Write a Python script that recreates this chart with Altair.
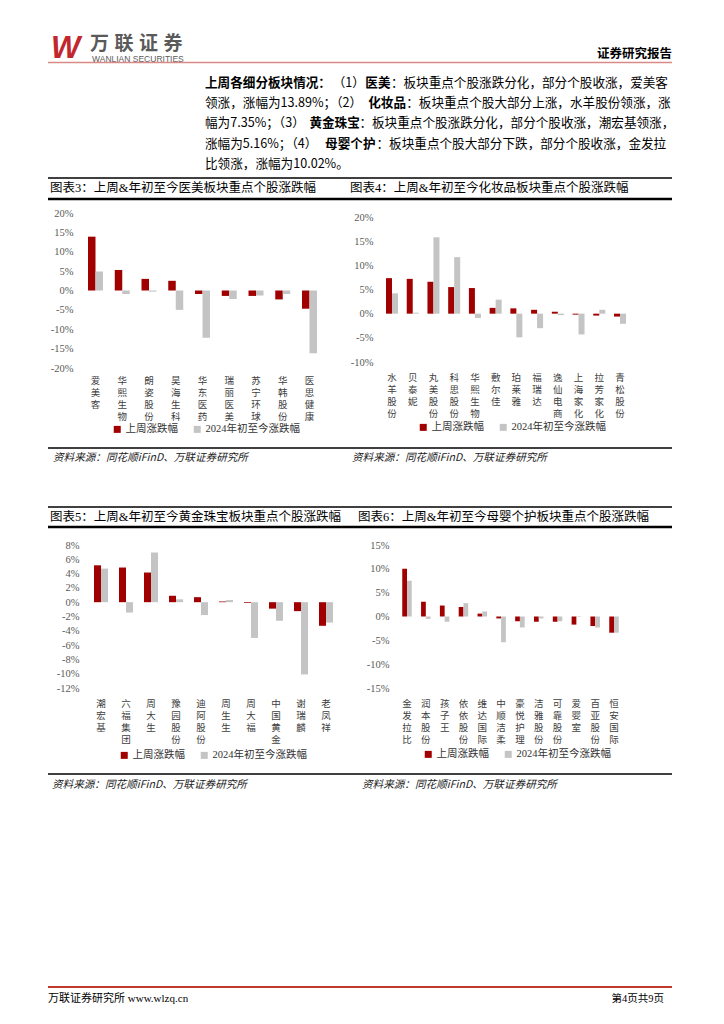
import altair as alt
import pandas as pd

SERIES = ["上周涨跌幅", "2024年初至今涨跌幅"]
BAR_COLORS = ["#A00000", "#C4C4C4"]

# ---- chart 3: 医美
c3_names = ["爱美客", "华熙生物", "朗姿股份", "昊海生科", "华东医药", "瑞丽医美", "苏宁环球", "华韩股份", "医思健康"]
c3_week = [13.89, 5.3, 3.0, 2.5, -0.9, -1.4, -1.4, -2.3, -4.7]
c3_ytd = [4.9, -0.9, -0.3, -5.0, -12.2, -2.2, -1.3, -0.9, -16.2]
c3_ticks = [-20, -15, -10, -5, 0, 5, 10, 15, 20]

# ---- chart 4: 化妆品
c4_names = ["水羊股份", "贝泰妮", "丸美股份", "科思股份", "华熙生物", "敷尔佳", "珀莱雅", "福瑞达", "逸仙电商", "上海家化", "拉芳家化", "青松股份"]
c4_week = [7.35, 7.2, 6.6, 5.5, 5.3, 1.2, 1.1, 0.8, 0.4, -0.2, -0.4, -0.6]
c4_ytd = [4.2, 0.2, 15.8, 11.7, -0.9, 2.9, -4.9, -3.0, -0.3, -4.3, 0.8, -2.1]
c4_ticks = [-10, -5, 0, 5, 10, 15, 20]

# ---- chart 5: 黄金珠宝
c5_names = ["潮宏基", "六福集团", "周大生", "豫园股份", "迪阿股份", "周生生", "周大福", "中国黄金", "谢瑞麟", "老凤祥"]
c5_week = [5.16, 4.85, 4.15, 0.9, 0.7, 0.1, -0.1, -0.9, -1.25, -3.3]
c5_ytd = [4.7, -1.45, 6.95, 0.4, -1.8, 0.3, -5.0, -2.6, -10.1, -2.85]
c5_ticks = [-12, -10, -8, -6, -4, -2, 0, 2, 4, 6, 8]

# ---- chart 6: 母婴个护
c6_names = ["金发拉比", "润本股份", "孩子王", "依依股份", "维达国际", "中顺洁柔", "豪悦护理", "洁雅股份", "可靠股份", "爱婴室", "百亚股份", "恒安国际"]
c6_week = [10.02, 3.1, 2.3, 2.0, 0.6, -0.4, -1.0, -1.1, -1.1, -1.7, -2.0, -3.4]
c6_ytd = [7.5, -0.5, -1.1, 2.8, 1.05, -5.4, -2.3, -0.4, -1.0, -0.1, -2.3, -3.4]
c6_ticks = [-15, -10, -5, 0, 5, 10, 15]

TITLES = ["图表3：上周&年初至今医美板块重点个股涨跌幅",
          "图表4：上周&年初至今化妆品板块重点个股涨跌幅",
          "图表5：上周&年初至今黄金珠宝板块重点个股涨跌幅",
          "图表6：上周&年初至今母婴个护板块重点个股涨跌幅"]
SOURCE = "资料来源：同花顺iFinD、万联证券研究所"

PARA = [
    [("上周各细分板块情况：", True), ("（1）", False), ("医美", True), ("：板块重点个股涨跌分化，部分个股收涨，爱美客", False)],
    [("领涨，涨幅为13.89%；（2）", False), ("化妆品", True), ("：板块重点个股大部分上涨，水羊股份领涨，涨", False)],
    [("幅为7.35%；（3）", False), ("黄金珠宝", True), ("：板块重点个股涨跌分化，部分个股收涨，潮宏基领涨，", False)],
    [("涨幅为5.16%；（4）", False), ("母婴个护", True), ("：板块重点个股大部分下跌，部分个股收涨，金发拉", False)],
    [("比领涨，涨幅为10.02%。", False)],
]

SERIF = "'Liberation Serif', 'Noto Sans CJK SC'"
SANS = "'Noto Sans CJK SC'"
LATIN = "'Liberation Sans'"

# layout (page pixels); cell of chart 3 is the origin of all decorations
OX, OY = 82, 213
W1, W2, GX = 257, 248, 43
H1, H2, GY = 155, 143, 177

ONE = pd.DataFrame({"k": [0]})


def band_params(left, width, n, c_first, c_last, pair_w):
    step = (c_last - c_first) / (n - 1)
    pi = 1 - pair_w / step
    total = width / step
    po = (total - n + pi) / 2
    slack = width - step * (n - pi)
    start = c_first - left - pair_w / 2
    al = min(max(start / slack, 0), 1)
    return pi, max(po, 0), al


def bar_panel(names, week, ytd, left, width, height, domain, ticks,
              c_first, c_last, pair_w, y_pad, y_off, x_pad, leg_x, leg_y):
    rows = []
    for n, a, b in zip(names, week, ytd):
        rows.append({"stock": n, "series": SERIES[0], "value": a})
        rows.append({"stock": n, "series": SERIES[1], "value": b})
    df = pd.DataFrame(rows)
    pi, po, al = band_params(left, width, len(names), c_first, c_last, pair_w)
    return alt.Chart(df).mark_bar().encode(
        x=alt.X("stock:N", sort=names, title=None,
                scale=alt.Scale(paddingInner=pi, paddingOuter=po, align=al),
                axis=alt.Axis(labelExpr="split(datum.label, '')", labelAngle=0,
                              labelAlign="center", labelBaseline="top",
                              labelPadding=x_pad, labelFont=SANS, labelFontSize=9.5,
                              labelColor="#404040", labelLineHeight=12.2,
                              labelOverlap=False, labelLimit=400,
                              ticks=False, domain=False, grid=False)),
        xOffset=alt.XOffset("series:N", sort=SERIES,
                            scale=alt.Scale(paddingInner=0, paddingOuter=0)),
        y=alt.Y("value:Q", stack=None, title=None,
                scale=alt.Scale(domain=domain, nice=False, zero=False),
                axis=alt.Axis(values=ticks, labelExpr="datum.value + '%'",
                              labelPadding=y_pad, offset=y_off,
                              labelFont=SERIF, labelFontSize=10.5, labelColor="#595959",
                              ticks=False, domain=False, grid=False)),
        color=alt.Color("series:N", sort=SERIES,
                        scale=alt.Scale(domain=SERIES, range=BAR_COLORS),
                        legend=alt.Legend(orient="none", legendX=leg_x, legendY=leg_y,
                                          direction="horizontal", title=None,
                                          symbolType="square", symbolSize=49,
                                          symbolStrokeWidth=0, labelFont=SERIF,
                                          labelFontSize=10.5, labelColor="#333333",
                                          labelOffset=3, columnPadding=14, padding=0)),
    ).properties(width=width, height=height)


def T(x, y, s, fs, font=SERIF, weight="normal", style="normal", align="left",
      baseline="middle", color="#000000"):
    return alt.Chart(ONE).mark_text(
        text=s, font=font, fontSize=fs, fontWeight=weight, fontStyle=style,
        align=align, baseline=baseline, color=color
    ).encode(x=alt.value(x - OX), y=alt.value(y - OY))


def H(x1, x2, y, w, color="#000000"):
    return alt.Chart(ONE).mark_rule(color=color, strokeWidth=w).encode(
        x=alt.value(x1 - OX), x2=alt.value(x2 - OX), y=alt.value(y - OY))


def tw(s, fs):
    w = 0.0
    for ch in s:
        if ord(ch) < 128:
            w += fs * (0.3 if ch == "." else 0.85 if ch == "%" else 0.55)
        else:
            w += fs
    return w


decor = []
# invisible page anchor: fixes where the cells sit on the page
decor.append(alt.Chart(ONE).mark_rect(opacity=0).encode(
    x=alt.value(8 - OX), x2=alt.value(716 - OX), y=alt.value(8 - OY), y2=alt.value(1016 - OY)))

# header / logo
decor.append(T(51, 58, "W", 31, font=LATIN, weight="bold", style="italic",
               baseline="alphabetic", color="#C1272D"))
for i, ch in enumerate("万联证券"):
    decor.append(T(90 + i * 24.5, 50, ch, 19, font=SANS, weight="bold",
                   baseline="alphabetic", color="#5A5A5A"))
decor.append(T(92, 58.5, "WANLIAN SECURITIES", 8.5, font=LATIN, color="#5A5A5A"))
decor.append(T(672, 54, "证券研究报告", 12.5, font=SANS, weight="bold", align="right"))
decor.append(H(48, 672, 62.5, 1.5, "#D98A86"))

# paragraph
PFS = 12.6
for li, line in enumerate(PARA):
    natural = sum(tw(s, PFS) for s, _ in line)
    f = (467 / natural) if li < len(PARA) - 1 else 1.0
    pos = 0.0
    for s, bold in line:
        decor.append(T(205 + pos * f, 83 + li * 20.2, s, PFS, font=SANS,
                       weight="bold" if bold else "normal"))
        pos += tw(s, PFS)

# section rules
for y, w in [(178, 1.5), (199, 2.5), (448, 1.5), (507, 1.5), (527, 2.5), (774, 1.5)]:
    decor.append(H(48, 672, y, w))

# titles and sources
for (x, y), t in zip([(50, 188), (350, 188), (50, 517), (358, 517)], TITLES):
    decor.append(T(x, y, t, 12.5))
for x, y in [(53, 458), (352, 458), (52, 785), (362, 785)]:
    decor.append(T(x, y, SOURCE, 10.6, font=SANS, style="italic", color="#222222"))

# footer
decor.append(H(48, 672, 987, 2, "#C0392B"))
decor.append(T(48, 999, "万联证券研究所  www.wlzq.cn", 11, font=SERIF))
decor.append(T(664, 999, "第4页共9页", 10.5, font=SERIF, align="right"))

b3 = bar_panel(c3_names, c3_week, c3_ytd, 82, W1, H1, [-20, 20], c3_ticks,
               95.5, 309.5, 15, 9, 0, 7, 30, 211)
k4 = (362 - 217) / 30
b4 = bar_panel(c4_names, c4_week, c4_ytd, 382, W2, H1,
               [-10 - (368 - 362) / k4, 20 + (217 - 213) / k4], c4_ticks,
               392, 620, 12, 9, 0, 4, 36, 209)
b5 = bar_panel(c5_names, c5_week, c5_ytd, 82, W1, H2, [-12, 8], c5_ticks,
               101, 326, 14, 3, 0, 10, 37, 205)
b6 = bar_panel(c6_names, c6_week, c6_ytd, 382, W2, H2, [-15, 15], c6_ticks,
               407, 614, 9.5, 9, -16, 10, 41, 204)

c3 = alt.layer(b3, *decor)

chart = alt.concat(
    c3, b4, b5, b6, columns=2, bounds="flush",
    spacing={"row": GY, "column": GX},
).resolve_scale(color="independent", xOffset="independent").properties(
    padding=0
).configure_view(strokeWidth=0)

chart.save("out.html", embed_options={"renderer": "svg", "actions": False})
